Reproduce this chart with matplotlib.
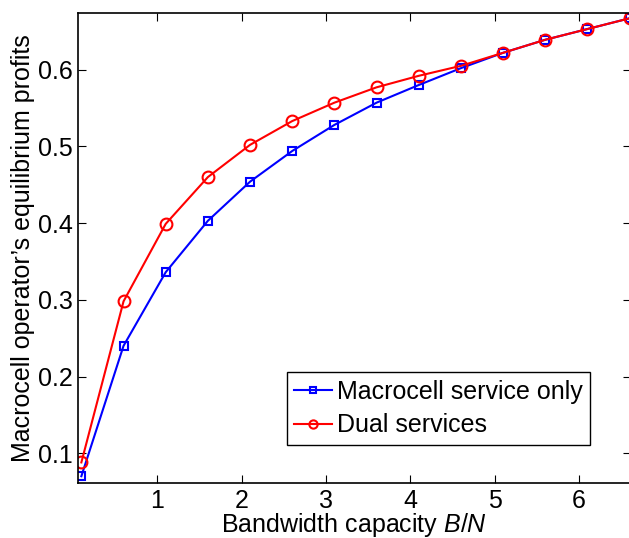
import numpy as np
import matplotlib.pyplot as plt

plt.rcParams['font.family'] = ['Liberation Sans', 'DejaVu Sans']
plt.rcParams['mathtext.fontset'] = 'custom'
plt.rcParams['mathtext.it'] = 'Liberation Sans:italic'
plt.rcParams['mathtext.rm'] = 'Liberation Sans'

# bandwidth capacity B/N
capacity = [0.1, 0.6, 1.1, 1.6, 2.1, 2.6, 3.1, 3.6, 4.1, 4.6, 5.1, 5.6, 6.1, 6.6]
macro_only = [0.070, 0.240, 0.336, 0.403, 0.454, 0.494, 0.528, 0.557, 0.580,
              0.602, 0.622, 0.639, 0.653, 0.667]
dual = [0.088, 0.298, 0.399, 0.460, 0.502, 0.533, 0.557, 0.577, 0.592,
        0.605, 0.622, 0.639, 0.653, 0.667]

fig = plt.figure(figsize=(6.29, 5.38), dpi=100)
ax = fig.add_axes([0.124, 0.102, 0.879, 0.874])

ax.plot(capacity, macro_only, 'b-s', lw=1.5, ms=6, mfc='none', mew=1.5,
        label='Macrocell service only')
ax.plot(capacity, dual, 'r-o', lw=1.5, ms=8.5, mfc='none', mew=1.5,
        label='Dual services')

ax.set_xlim(0.06, 6.615)
ax.set_ylim(0.061, 0.674)
ax.set_xticks([1, 2, 3, 4, 5, 6])
ax.set_yticks([0.1, 0.2, 0.3, 0.4, 0.5, 0.6])
ax.tick_params(direction='in', top=True, right=True, labelsize=18, length=6, pad=4)
for s in ax.spines.values():
    s.set_linewidth(1.2)

ax.set_xlabel('Bandwidth capacity $B/N$', fontsize=18, labelpad=-1)
ax.set_ylabel('Macrocell operator\u2019s equilibrium profits', fontsize=18, labelpad=2)

leg = ax.legend(loc='lower right', bbox_to_anchor=(590 / 629, 1 - 445 / 538),
                bbox_transform=fig.transFigure, fontsize=18, fancybox=False,
                edgecolor='black', framealpha=1, handlelength=1.5,
                handletextpad=0.2, borderpad=0.3, labelspacing=0.4,
                borderaxespad=0, markerscale=0.7)
leg.get_frame().set_linewidth(1.0)

plt.savefig('out.png', dpi=100)
plt.close()
